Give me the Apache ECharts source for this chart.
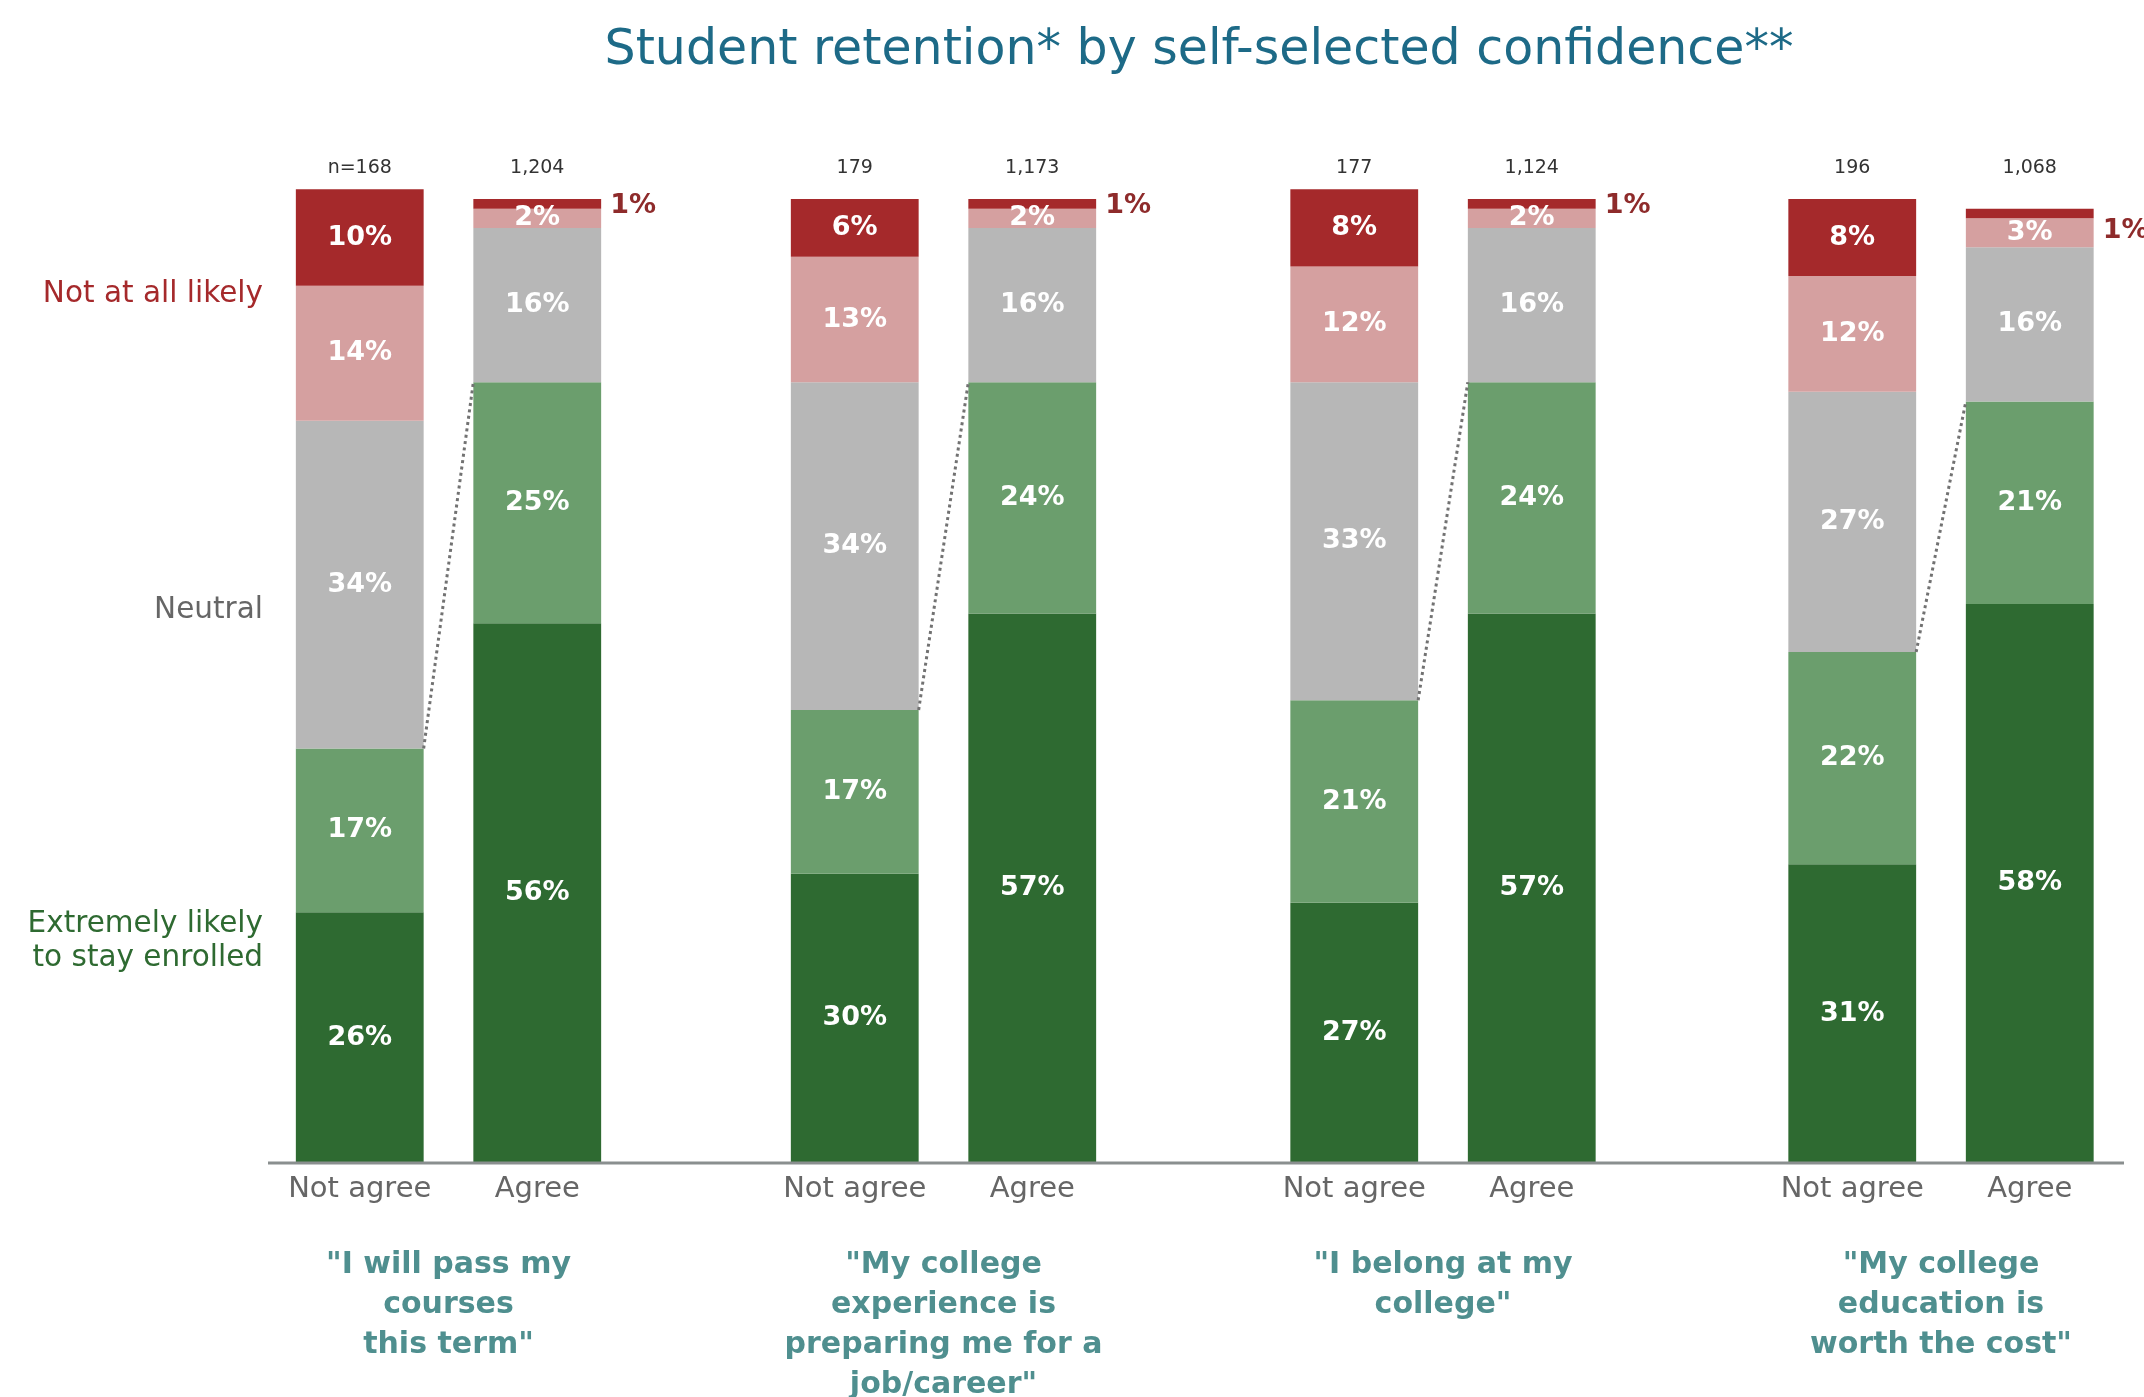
<!DOCTYPE html>
<html>
<head>
<meta charset="utf-8">
<title>Student retention by self-selected confidence</title>
<script src="https://cdn.jsdelivr.net/npm/echarts@6/dist/echarts.min.js"></script>
<style>
  html, body { margin: 0; padding: 0; background: #ffffff; }
  #chart { width: 2144px; height: 1397px; }
</style>
</head>
<body>
<div id="chart"></div>
<script>
// Survey statements (one panel each) and the two answer groups within a panel
const statements = [
  '"I will pass my\ncourses\nthis term"',
  '"My college\nexperience is\npreparing me for a\njob/career"',
  '"I belong at my\ncollege"',
  '"My college\neducation is\nworth the cost"'
];
const responses = ['Not agree', 'Agree'];

// Respondents per bar: [Not agree, Agree] for each statement
const sampleSizes = [['n=168', '1,204'], ['179', '1,173'], ['177', '1,124'], ['196', '1,068']];

// Likelihood of staying enrolled (%), [Not agree, Agree] for each statement
const extremelyLikely = [[26, 56], [30, 57], [27, 57], [31, 58]];
const likely          = [[17, 25], [17, 24], [21, 24], [22, 21]];
const neutral         = [[34, 16], [34, 16], [33, 16], [27, 16]];
const unlikely        = [[14, 2],  [13, 2],  [12, 2],  [12, 3]];
const notAtAllLikely  = [[10, 1],  [6, 1],   [8, 1],   [8, 1]];

// ---- presentation ----
const FONT = '"DejaVu Sans", "Noto Sans", sans-serif';
const PANEL_CENTERS = [448.5, 943.5, 1443, 1941];
const PANEL_WIDTH = 355;
const PLOT_TOP = 199;
const PLOT_HEIGHT = 964;
const BAR_FRACTION = 0.72;

const segments = [
  { name: 'Extremely likely', values: extremelyLikely, color: '#2E6A31' },
  { name: 'Likely',           values: likely,          color: '#6B9E6D' },
  { name: 'Neutral',          values: neutral,         color: '#B7B7B7' },
  { name: 'Unlikely',         values: unlikely,        color: '#D5A0A0' },
  { name: 'Not at all likely',values: notAtAllLikely,  color: '#A5292B' }
];

const grids = [], xAxes = [], yAxes = [], series = [];

statements.forEach((statement, g) => {
  grids.push({
    left: PANEL_CENTERS[g] - PANEL_WIDTH / 2,
    top: PLOT_TOP,
    width: PANEL_WIDTH,
    height: PLOT_HEIGHT,
    containLabel: false,
    outerBoundsMode: 'none'
  });

  yAxes.push({ type: 'value', gridIndex: g, min: 0, max: 100, show: false });

  // answer group below the bars, statement as the axis name
  xAxes.push({
    type: 'category', gridIndex: g, position: 'bottom', data: responses,
    axisLine: { show: false }, axisTick: { show: false },
    axisLabel: { color: '#666666', fontSize: 29, margin: 12, interval: 0, hideOverlap: false, fontFamily: FONT },
    name: statement, nameLocation: 'middle', nameGap: 82, nameMoveOverlap: false,
    nameTextStyle: { color: '#4F8F8F', fontSize: 30, fontWeight: 'bold', lineHeight: 40, fontFamily: FONT }
  });

  series.push(...segments.map((seg, k) => ({
    type: 'bar',
    name: seg.name,
    xAxisIndex: g,
    yAxisIndex: g,
    stack: 'panel' + g,
    barWidth: (BAR_FRACTION * 100) + '%',
    clip: false,
    itemStyle: { color: seg.color },
    label: {
      show: true, position: 'inside', formatter: '{c}%',
      color: '#ffffff', fontSize: 27, fontWeight: 'bold', fontFamily: FONT
    },
    data: seg.values[g].map((v, i) => {
      // the thin top slice of an Agree bar gets its label beside the bar
      if (k === segments.length - 1 && i === 1) {
        return {
          value: v,
          label: {
            position: 'right', distance: 9, color: '#8E2B2B',
            offset: g === statements.length - 1 ? [0, 18] : [0, 2]
          }
        };
      }
      return v;
    })
  })));

  // dotted link between the tops of the "likely" totals of the two bars
  series.push({
    type: 'custom',
    xAxisIndex: g,
    yAxisIndex: g,
    silent: true,
    z: 3,
    encode: { x: [0, 2], y: [1, 3] },
    data: [[0, extremelyLikely[g][0] + likely[g][0], 1, extremelyLikely[g][1] + likely[g][1]]],
    renderItem: (params, api) => {
      const half = api.size([1, 0])[0] * BAR_FRACTION / 2;
      const a = api.coord([api.value(0), api.value(1)]);
      const b = api.coord([api.value(2), api.value(3)]);
      return {
        type: 'line',
        shape: { x1: a[0] + half, y1: a[1], x2: b[0] - half, y2: b[1] },
        style: { stroke: '#727272', lineWidth: 3, lineDash: [3, 3.4] }
      };
    }
  });
});

// respondent counts above the bars
statements.forEach((s, g) => {
  xAxes.push({
    type: 'category', gridIndex: g, position: 'top', data: sampleSizes[g],
    axisLine: { show: false }, axisTick: { show: false },
    axisLabel: { color: '#333333', fontSize: 19, margin: 21, interval: 0, fontFamily: FONT }
  });
});

const sideLabel = (text, y, color) => ({
  type: 'text',
  style: {
    text, x: 263, y,
    align: 'right', verticalAlign: 'middle',
    textAlign: 'right', textVerticalAlign: 'middle',
    fill: color, fontSize: 29.5, fontFamily: FONT, lineHeight: 34
  }
});

const chart = echarts.init(document.getElementById('chart'), null, { renderer: 'canvas' });
chart.setOption({
  backgroundColor: '#ffffff',
  animation: false,
  grid: grids,
  xAxis: xAxes,
  yAxis: yAxes,
  series,
  graphic: [
    {
      type: 'text',
      style: {
        text: 'Student retention* by self-selected confidence**',
        x: 1199, y: 51,
        align: 'center', verticalAlign: 'middle',
        textAlign: 'center', textVerticalAlign: 'middle',
        fill: '#1D6A87', fontSize: 49, fontFamily: FONT
      }
    },
    sideLabel('Not at all likely', 294, '#A5292B'),
    sideLabel('Neutral', 610, '#666666'),
    sideLabel('Extremely likely\nto stay enrolled', 941, '#2E6A31'),
    {
      type: 'line', z: 10,
      shape: { x1: 268, y1: 1163, x2: 2124, y2: 1163 },
      style: { stroke: '#8A8F8F', lineWidth: 3 }
    }
  ]
});
</script>
</body>
</html>
